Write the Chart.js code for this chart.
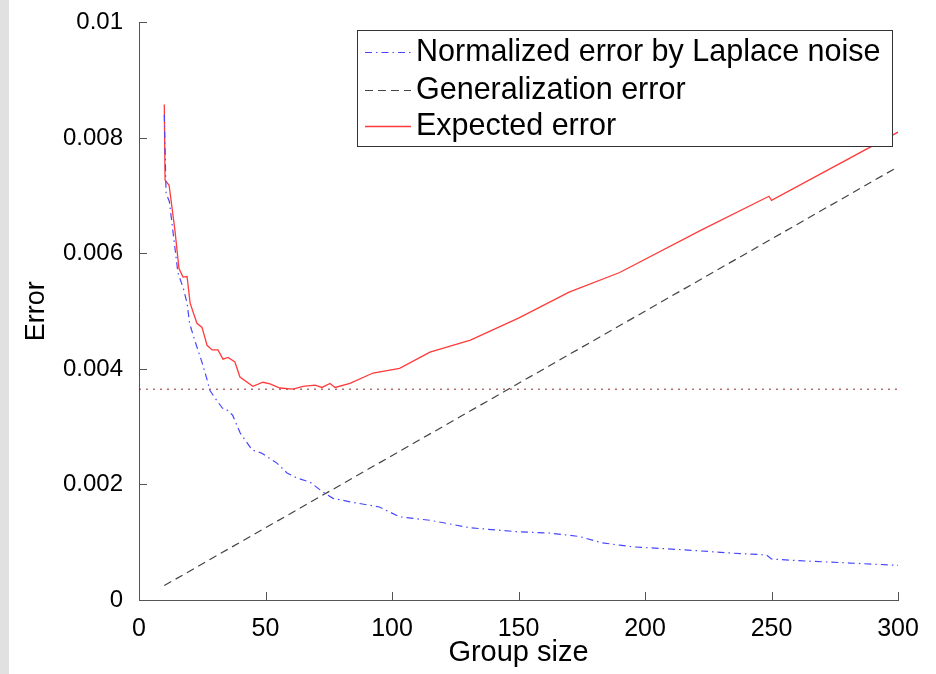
<!DOCTYPE html>
<html>
<head>
<meta charset="utf-8">
<script src="https://cdn.jsdelivr.net/npm/chart.js@4.4.1/dist/chart.umd.min.js"></script>
<style>
  html, body { margin: 0; padding: 0; background: #fff; }
  #strip { position: absolute; left: 0; top: 0; width: 9px; height: 674px; background: #e1e1e1; }
  #wrap { position: absolute; left: 0; top: 0; width: 936px; height: 674px; }
</style>
</head>
<body>
<div id="wrap"><canvas id="errChart" width="936" height="674"></canvas></div>
<div id="strip"></div>
<script>
// Group sizes and errors
const noiseX = [10, 10.7, 12, 15.4, 17.5, 19, 20, 22, 25, 27, 28, 30, 33, 34, 37, 40, 44.7, 48.6, 54.5, 58.5, 62.5, 67.6, 72.7, 76.7, 83.4, 95, 103, 115, 131, 150, 162, 174, 183, 190, 195, 215, 235, 248, 250, 261, 281, 300];
const noiseY = [0.0084, 0.00704, 0.0069, 0.00566, 0.0054, 0.00514, 0.00479, 0.0045, 0.0041, 0.0038, 0.00363, 0.0035, 0.00332, 0.00332, 0.0032, 0.00289, 0.0026, 0.00254, 0.00237, 0.0022, 0.00211, 0.00204, 0.00187, 0.00176, 0.0017, 0.00161, 0.00144, 0.00138, 0.00125, 0.00118, 0.00116, 0.0011, 0.00099, 0.00095, 0.00092, 0.00087, 0.00081, 0.00078, 0.00071, 0.00068, 0.00064, 0.0006];

const genX = [10, 300];
const genY = [0.00025, 0.0075];

const expX = [10, 10.3, 11.9, 14.2, 15.8, 17.4, 19, 20.2, 22.9, 24.9, 26.9, 28.9, 31.2, 33.2, 35.2, 37.9, 39.9, 45, 49, 51.8, 55.7, 60.9, 64.8, 69.6, 72.3, 75.5, 77.5, 83.4, 92.5, 103, 115, 131, 150, 170, 190, 222, 249, 250, 300];
const expY = [0.00858, 0.00727, 0.00718, 0.0064, 0.00574, 0.00559, 0.0056, 0.00514, 0.00479, 0.00472, 0.00441, 0.00433, 0.00433, 0.00417, 0.0042, 0.00412, 0.00386, 0.0037, 0.00377, 0.00374, 0.00367, 0.00365, 0.0037, 0.00372, 0.00368, 0.00375, 0.00368, 0.00375, 0.00393, 0.00401, 0.00429, 0.0045, 0.00488, 0.00533, 0.00567, 0.0064, 0.00699, 0.00692, 0.0081];

// minimum of the expected error, shown as a dotted reference
const minX = [0, 300];
const minY = [0.00365, 0.00365];

const xTicks = [0, 50, 100, 150, 200, 250, 300];
const yTicks = [0, 0.002, 0.004, 0.006, 0.008, 0.01];

const pts = (xs, ys) => xs.map((x, i) => ({ x: x, y: ys[i] }));
const FONT = "'Liberation Sans', Arial, sans-serif";

// tick marks pointing into the plot, matlab style
const innerTicks = {
  id: "innerTicks",
  afterDraw(chart) {
    const ctx = chart.ctx, a = chart.chartArea;
    const xs = chart.scales.x, ys = chart.scales.y;
    ctx.save();
    ctx.strokeStyle = "#555";
    ctx.lineWidth = 1;
    ctx.beginPath();
    xTicks.forEach(v => {
      const px = Math.round(xs.getPixelForValue(v)) + 0.5;
      ctx.moveTo(px, a.bottom);
      ctx.lineTo(px, a.bottom - 8);
    });
    yTicks.forEach(v => {
      const py = Math.round(ys.getPixelForValue(v)) + 0.5;
      ctx.moveTo(a.left, py);
      ctx.lineTo(a.left + 8, py);
    });
    ctx.stroke();
    ctx.restore();
  }
};

// boxed legend in the top right
const boxLegend = {
  id: "boxLegend",
  afterDraw(chart) {
    const ctx = chart.ctx;
    const box = { left: 357, top: 30, right: 892, bottom: 146 };
    const rows = [52, 90, 126];
    ctx.save();
    ctx.fillStyle = "#fff";
    ctx.fillRect(box.left, box.top, box.right - box.left, box.bottom - box.top);
    ctx.strokeStyle = "#333";
    ctx.lineWidth = 1;
    ctx.strokeRect(box.left + 0.5, box.top + 0.5, box.right - box.left, box.bottom - box.top);
    ctx.font = "30.5px " + FONT;
    ctx.textBaseline = "middle";
    chart.data.datasets.filter(d => d.label).forEach((d, i) => {
      const y = rows[i] + 0.5;
      ctx.strokeStyle = d.borderColor;
      ctx.lineWidth = d.borderWidth;
      ctx.setLineDash(d.borderDash || []);
      ctx.beginPath();
      ctx.moveTo(365, y);
      ctx.lineTo(411, y);
      ctx.stroke();
      ctx.setLineDash([]);
      ctx.fillStyle = "#000";
      ctx.fillText(d.label, 416, rows[i] + 1);
    });
    ctx.restore();
  }
};

new Chart(document.getElementById("errChart"), {
  type: "line",
  data: {
    datasets: [
      {
        label: "Normalized error by Laplace noise",
        data: pts(noiseX, noiseY),
        borderColor: "#4646ff",
        borderWidth: 1.2,
        borderDash: [7, 4, 1.5, 4]
      },
      {
        label: "Generalization error",
        data: pts(genX, genY),
        borderColor: "#444",
        borderWidth: 1.2,
        borderDash: [8, 5]
      },
      {
        label: "Expected error",
        data: pts(expX, expY),
        borderColor: "#ff3b3b",
        borderWidth: 1.3
      },
      {
        label: "",
        data: pts(minX, minY),
        borderColor: "#8a2a2a",
        borderWidth: 1,
        borderDash: [2, 5]
      }
    ]
  },
  options: {
    responsive: false,
    animation: false,
    elements: { point: { radius: 0 }, line: { tension: 0 } },
    layout: { padding: { left: 0, top: 22, right: 38, bottom: 0 } },
    plugins: { legend: { display: false }, tooltip: { enabled: false } },
    scales: {
      x: {
        type: "linear",
        min: 0,
        max: 300,
        afterFit: s => { s.height = 74; },
        afterBuildTicks: s => { s.ticks = xTicks.map(v => ({ value: v })); },
        grid: { display: false },
        border: { display: true, color: "#555", width: 1 },
        ticks: { color: "#000", padding: 6, font: { family: FONT, size: 25 }, maxRotation: 0 },
        title: { display: true, text: "Group size", color: "#000", font: { family: FONT, size: 29 }, padding: { top: 0 } }
      },
      y: {
        type: "linear",
        min: 0,
        max: 0.01,
        afterFit: s => { s.width = 139; },
        afterBuildTicks: s => { s.ticks = yTicks.map(v => ({ value: v })); },
        grid: { display: false },
        border: { display: true, color: "#555", width: 1 },
        ticks: {
          color: "#000",
          padding: 8,
          font: { family: FONT, size: 24 },
          callback: v => v === 0 ? "0" : String(Number(v.toFixed(3)))
        },
        title: { display: true, text: "Error", color: "#000", font: { family: FONT, size: 27 }, padding: { bottom: 0, top: 20 } }
      }
    }
  },
  plugins: [innerTicks, boxLegend]
});
</script>
</body>
</html>
